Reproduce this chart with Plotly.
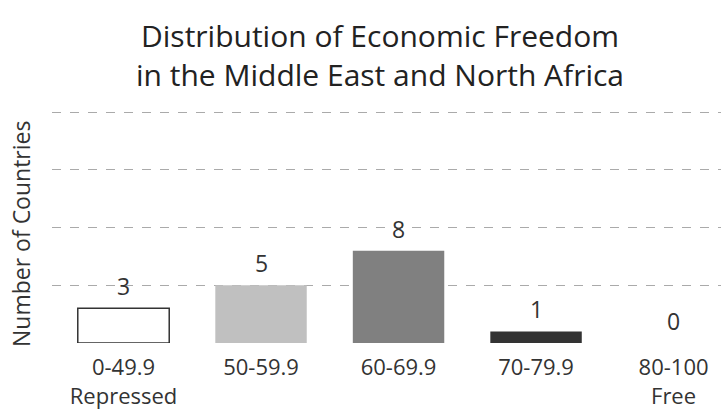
import plotly.graph_objects as go

categories = ["0-49.9<br>Repressed", "50-59.9", "60-69.9", "70-79.9", "80-100<br>Free"]
counts = [3, 5, 8, 1, 0]
bar_colors = ["#ffffff", "#c0c0c0", "#808080", "#333333", "#333333"]
y_ticks = [0, 5, 10, 15, 20]

FONT = "Open Sans"
TXT = "#333333"
W, H = 721, 411
ML, MR, MT, MB = 52, 0, 111, 68
PW = W - ML - MR
PH = H - MT - MB

fig = go.Figure()
fig.add_trace(go.Bar(
    x=list(range(len(categories))),
    y=counts,
    marker=dict(color=bar_colors, line=dict(color="#333333", width=[1.5, 0, 0, 0, 0])),
    width=0.665,
    showlegend=False,
    hoverinfo="skip",
))

for i, v in enumerate(counts):
    fig.add_annotation(
        x=i, y=v, text=str(v), showarrow=False,
        yanchor="bottom", yshift=4,
        font=dict(family=FONT, size=23, color=TXT),
    )

# title
fig.add_annotation(
    xref="paper", yref="paper",
    x=(379.5 - ML) / PW, y=1 + (MT - 55) / PH,
    xanchor="center", yanchor="middle", showarrow=False,
    text="Distribution of Economic Freedom<br>in the Middle East and North Africa",
    font=dict(family=FONT, size=30, color="#222222"),
)
# y-axis title
fig.add_annotation(
    xref="paper", yref="paper",
    x=-(ML - 21) / PW, y=(H - MB - 234) / PH,
    xanchor="center", yanchor="middle", showarrow=False, textangle=-90,
    text="Number of Countries",
    font=dict(family=FONT, size=23, color=TXT),
)

fig.update_layout(
    width=W, height=H,
    margin=dict(l=ML, r=MR, t=MT, b=MB),
    paper_bgcolor="white", plot_bgcolor="white",
    font=dict(family=FONT, color=TXT),
    xaxis=dict(
        tickmode="array", tickvals=list(range(len(categories))), ticktext=categories,
        range=[-0.52, 4.345], showgrid=False, zeroline=False, showline=False,
        tickfont=dict(family=FONT, size=22, color=TXT),
        ticks="", ticklen=0, automargin=False, ticklabelstandoff=9,
    ),
    yaxis=dict(
        range=[0, 20.1], tickvals=y_ticks, showticklabels=False,
        showgrid=True, gridcolor="#aaaaaa", griddash="dash", gridwidth=1,
        zeroline=False, showline=False, automargin=False,
    ),
)

fig.write_html("out.html", config={"displayModeBar": False},
               post_script="document.body.style.margin='0';")
